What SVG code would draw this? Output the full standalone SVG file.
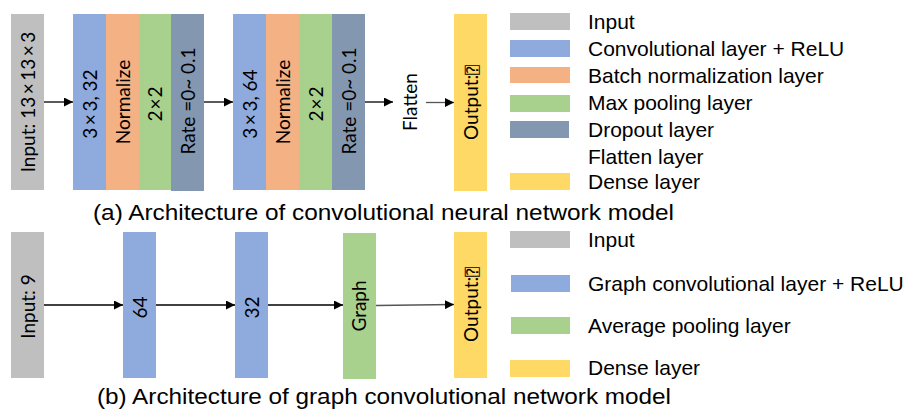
<svg xmlns="http://www.w3.org/2000/svg" width="909" height="412" viewBox="0 0 909 412">
  <style>
    .lbl { font-family: Lato, "Open Sans", sans-serif; font-size: 19px; fill: #000; text-anchor: middle; }
    .leg { font-family: "Liberation Sans", Arial, sans-serif; font-size: 21px; fill: #000; }
    .cap { font-family: "Liberation Sans", Arial, sans-serif; font-size: 22px; fill: #000; }
    .quad { font-family: "DejaVu Sans Mono", "DejaVu Sans", monospace; font-size: 16px; }
    .in { fill: #BFBFBF; }
    .conv { fill: #8FAADC; }
    .bn { fill: #F4B183; }
    .pool { fill: #A9D18E; }
    .drop { fill: #8497B0; }
    .dense { fill: #FFD966; }
    .edge { stroke: #000; stroke-width: 1.3; fill: none; }
    .edge.soft { stroke: #555; }
  </style>
  <defs>
    <marker id="arrow" viewBox="0 0 10 10" refX="10" refY="5" markerUnits="userSpaceOnUse" markerWidth="9" markerHeight="9" orient="auto">
      <path d="M0,0 L10,5 L0,10 z" fill="#000"/>
    </marker>
  </defs>

  <rect width="909" height="412" fill="#fff"/>

  <!-- (a) CNN model -->
  <g id="cnn-input">
    <rect class="in" x="11" y="14" width="33" height="176"/>
    <text class="lbl" transform="translate(34.5,102) rotate(-90)">Input: 13<tspan dx="2.5">×</tspan><tspan dx="2.5">13</tspan><tspan dx="2.5">×</tspan><tspan dx="2.5">3</tspan></text>
  </g>
  <g id="cnn-block1">
    <rect class="conv" x="73" y="14" width="33" height="176"/>
    <rect class="bn" x="106" y="14" width="33" height="176"/>
    <rect class="pool" x="139" y="14" width="32" height="176"/>
    <rect class="drop" x="171" y="14" width="33" height="177"/>
    <text class="lbl" transform="translate(96.5,104) rotate(-90)">3<tspan dx="2.5">×</tspan><tspan dx="2.5">3, 32</tspan></text>
    <text class="lbl" transform="translate(129.5,102) rotate(-90)">Normalize</text>
    <text class="lbl" transform="translate(162,104) rotate(-90)">2<tspan dx="1">×</tspan><tspan dx="1">2</tspan></text>
    <text class="lbl" transform="translate(194.5,101) rotate(-90)">Rate =0~ 0.1</text>
  </g>
  <g id="cnn-block2">
    <rect class="conv" x="233" y="14" width="33" height="176"/>
    <rect class="bn" x="266" y="14" width="33" height="176"/>
    <rect class="pool" x="299" y="14" width="33" height="176"/>
    <rect class="drop" x="332" y="14" width="33" height="176"/>
    <text class="lbl" transform="translate(256.5,104) rotate(-90)">3<tspan dx="2.5">×</tspan><tspan dx="2.5">3, 64</tspan></text>
    <text class="lbl" transform="translate(289.5,102) rotate(-90)">Normalize</text>
    <text class="lbl" transform="translate(322.5,104) rotate(-90)">2<tspan dx="1">×</tspan><tspan dx="1">2</tspan></text>
    <text class="lbl" transform="translate(355.5,101) rotate(-90)">Rate =0~ 0.1</text>
  </g>
  <g id="cnn-flatten">
    <text class="lbl" transform="translate(417,102) rotate(-90)">Flatten</text>
  </g>
  <g id="cnn-output">
    <rect class="dense" x="454" y="14" width="33" height="177"/>
    <text class="lbl" transform="translate(478,102.5) rotate(-90)">Output:<tspan class="quad">⍰</tspan></text>
  </g>

  <!-- (b) GCN model -->
  <g id="gcn-input">
    <rect class="in" x="11" y="232" width="33" height="146"/>
    <text class="lbl" transform="translate(34.5,306.5) rotate(-90)">Input: 9</text>
  </g>
  <g id="gcn-conv64">
    <rect class="conv" x="123" y="232" width="33" height="146"/>
    <text class="lbl" transform="translate(146.5,307.5) rotate(-90)">64</text>
  </g>
  <g id="gcn-conv32">
    <rect class="conv" x="235" y="232" width="33" height="146"/>
    <text class="lbl" transform="translate(258.5,307.5) rotate(-90)">32</text>
  </g>
  <g id="gcn-pool">
    <rect class="pool" x="343" y="233" width="33" height="146"/>
    <text class="lbl" transform="translate(366,306) rotate(-90)">Graph</text>
  </g>
  <g id="gcn-output">
    <rect class="dense" x="454" y="232" width="33" height="146"/>
    <text class="lbl" transform="translate(478,304.5) rotate(-90)">Output:<tspan class="quad">⍰</tspan></text>
  </g>

  <!-- connectors -->
  <g id="connectors">
    <line class="edge" x1="44" y1="102" x2="73" y2="102" marker-end="url(#arrow)"/>
    <line class="edge" x1="204" y1="102" x2="233" y2="102" marker-end="url(#arrow)"/>
    <line class="edge" x1="365" y1="102" x2="393" y2="102" marker-end="url(#arrow)"/>
    <line class="edge soft" x1="426" y1="102.5" x2="454" y2="102.5" marker-end="url(#arrow)"/>
    <line class="edge" x1="44" y1="305" x2="123" y2="305" marker-end="url(#arrow)"/>
    <line class="edge" x1="156" y1="305" x2="235" y2="305" marker-end="url(#arrow)"/>
    <line class="edge" x1="268" y1="305" x2="343" y2="305" marker-end="url(#arrow)"/>
    <line class="edge soft" x1="376" y1="305.5" x2="454" y2="304.5" marker-end="url(#arrow)"/>
  </g>

  <!-- legend (a) -->
  <g id="legend-a">
    <rect class="in" x="510" y="13" width="60" height="17"/>
    <text class="leg" x="588" y="29">Input</text>
    <rect class="conv" x="510" y="40" width="60" height="17"/>
    <text class="leg" x="588" y="56">Convolutional layer + ReLU</text>
    <rect class="bn" x="510" y="67" width="60" height="16"/>
    <text class="leg" x="588" y="83">Batch normalization layer</text>
    <rect class="pool" x="510" y="95" width="60" height="17"/>
    <text class="leg" x="588" y="110">Max pooling layer</text>
    <rect class="drop" x="510" y="121" width="59" height="17"/>
    <text class="leg" x="588" y="137">Dropout layer</text>
    <text class="leg" x="588" y="164">Flatten layer</text>
    <rect class="dense" x="510" y="173" width="60" height="17"/>
    <text class="leg" x="588" y="189">Dense layer</text>
  </g>

  <!-- legend (b) -->
  <g id="legend-b">
    <rect class="in" x="510" y="231" width="60" height="17"/>
    <text class="leg" x="588" y="247">Input</text>
    <rect class="conv" x="511" y="275" width="59" height="17"/>
    <text class="leg" x="588" y="291">Graph convolutional layer + ReLU</text>
    <rect class="pool" x="511" y="317" width="59" height="17"/>
    <text class="leg" x="588" y="333">Average pooling layer</text>
    <rect class="dense" x="510" y="360" width="60" height="17"/>
    <text class="leg" x="588" y="375">Dense layer</text>
  </g>

  <!-- captions -->
  <text class="cap" x="93" y="220" textLength="581" lengthAdjust="spacingAndGlyphs">(a) Architecture of convolutional neural network model</text>
  <text class="cap" x="97" y="404" textLength="574" lengthAdjust="spacingAndGlyphs">(b) Architecture of graph convolutional network model</text>
</svg>
